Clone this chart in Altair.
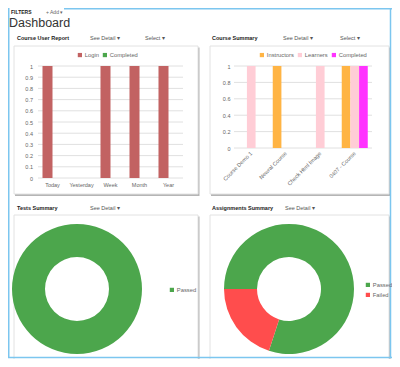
import math
import altair as alt
import pandas as pd

W, H = 384, 351
FONT = "Liberation Sans"

# ---- Course User Report ----
cur_periods = ["Today", "Yesterday", "Week", "Month", "Year"]
cur_login = [1, 0, 1, 1, 1]
cur_completed = [0, 0, 0, 0, 0]
cur_series = ["Login", "Completed"]
cur_colors = ["#c26262", "#4ca64c"]
cur_ticks = [0, 0.1, 0.2, 0.3, 0.4, 0.5, 0.6, 0.7, 0.8, 0.9, 1]

# ---- Course Summary ----
cs_courses = ["Course Demo 1", "Newral Course", "Check Html Image", "0407 - Course"]
cs_instructors = [0, 1, 0, 1]
cs_learners = [1, 0, 1, 1]
cs_completed = [0, 0, 0, 1]
cs_series = ["Instructors", "Learners", "Completed"]
cs_colors = ["#ffb444", "#ffcdd6", "#ff33ff"]
cs_ticks = [0, 0.2, 0.4, 0.6, 0.8, 1]

# ---- Tests Summary ----
ts_status = ["Passed"]
ts_counts = [1]
ts_colors = ["#4ca64c"]

# ---- Assignments Summary ----
as_status = ["Passed", "Failed"]
as_counts = [4, 1]
as_colors = ["#4ca64c", "#ff4d4d"]

one = pd.DataFrame({"k": [0]})


def txt(s, x, y, size=5.5, color="#555", weight="normal", align="left"):
    return alt.Chart(pd.DataFrame({"t": [s]})).mark_text(
        align=align, baseline="middle", fontSize=size, color=color,
        fontWeight=weight, font=FONT
    ).encode(x=alt.value(x), y=alt.value(y), text="t:N")


def box(x, y, x2, y2, fill="white", stroke="#e2e2e2", sw=1, opacity=1):
    return alt.Chart(one).mark_rect(
        fill=fill, stroke=stroke, strokeWidth=sw, fillOpacity=opacity
    ).encode(x=alt.value(x), x2=alt.value(x2), y=alt.value(y), y2=alt.value(y2))


def line(x, y, x2, y2, color="#7cc6ef", sw=1.5):
    return alt.Chart(one).mark_rule(color=color, strokeWidth=sw).encode(
        x=alt.value(x), x2=alt.value(x2), y=alt.value(y), y2=alt.value(y2))


def panel(x, y, x2, y2):
    shadow = box(x + 1, y + 1.5, x2 + 1.5, y2 + 2, fill="#b5b5b5", stroke="#b5b5b5", sw=0)
    front = box(x, y, x2, y2)
    return [shadow, front]


def legend(lx, ly, direction):
    return alt.Legend(
        orient="none", legendX=lx, legendY=ly, direction=direction, title=None,
        symbolType="square", symbolSize=18, symbolStrokeWidth=0,
        labelFontSize=5.8, labelColor="#666", labelFont=FONT,
        columnPadding=3, rowPadding=3, labelOffset=2, padding=0,
    )


def axis(orient, offset, **kw):
    return alt.Axis(orient=orient, offset=offset, title=None, domain=False,
                    ticks=False, tickSize=0, grid=False, labelFontSize=5.5,
                    labelColor="#666", labelFont=FONT, labelOverlap=False,
                    zindex=2, **kw)


# ---------- panel 1: bars ----------
cur_df = pd.DataFrame({
    "period": cur_periods * 2,
    "series": ["Login"] * 5 + ["Completed"] * 5,
    "value": cur_login + cur_completed,
})
y1 = alt.Y("value:Q", scale=alt.Scale(domain=[0, 1], range=[170, 58]),
           axis=axis("left", -30, values=cur_ticks, labelPadding=5.5, format="~g"))
grid1 = alt.Chart(pd.DataFrame({"value": cur_ticks})).mark_rule(
    color="#e0e0e0", strokeWidth=1).encode(y=y1, x=alt.value(30), x2=alt.value(175))
bars1 = alt.Chart(cur_df).mark_bar().encode(
    x=alt.X("period:N", sort=cur_periods,
            scale=alt.Scale(range=[30, 175], paddingInner=0.31, paddingOuter=0.155),
            axis=axis("bottom", 170 - H, labelAngle=0, labelPadding=4)),
    xOffset=alt.XOffset("series:N", sort=cur_series,
                        scale=alt.Scale(domain=cur_series, paddingInner=0)),
    y=y1,
    color=alt.Color("series:N", scale=alt.Scale(domain=cur_series, range=cur_colors),
                    legend=legend(69, 44, "horizontal")),
)
p1 = alt.layer(grid1, bars1)

# ---------- panel 2: bars ----------
cs_df = pd.DataFrame({
    "course": cs_courses * 3,
    "series": ["Instructors"] * 4 + ["Learners"] * 4 + ["Completed"] * 4,
    "value": cs_instructors + cs_learners + cs_completed,
})
y2 = alt.Y("value:Q", scale=alt.Scale(domain=[0, 1], range=[140, 58]),
           axis=axis("left", -226, values=cs_ticks, labelPadding=4, format="~g"))
grid2 = alt.Chart(pd.DataFrame({"value": cs_ticks})).mark_rule(
    color="#e0e0e0", strokeWidth=1).encode(y=y2, x=alt.value(226), x2=alt.value(364))
bars2 = alt.Chart(cs_df).mark_bar().encode(
    x=alt.X("course:N", sort=cs_courses,
            scale=alt.Scale(range=[226, 364], paddingInner=0.246, paddingOuter=0.123),
            axis=axis("bottom", 140 - H, labelAngle=315, labelAlign="right",
                      labelBaseline="middle", labelPadding=4)),
    xOffset=alt.XOffset("series:N", sort=cs_series,
                        scale=alt.Scale(domain=cs_series, paddingInner=0)),
    y=y2,
    color=alt.Color("series:N", scale=alt.Scale(domain=cs_series, range=cs_colors),
                    legend=legend(251, 44, "horizontal")),
)
p2 = alt.layer(grid2, bars2)

# ---------- donuts ----------
ROT = [1.5 * math.pi, 3.5 * math.pi]
ts_df = pd.DataFrame({"status": ts_status, "count": ts_counts})
d1 = alt.Chart(ts_df).mark_arc(radius=65, radius2=32).encode(
    theta=alt.Theta("count:Q", stack=True, scale=alt.Scale(range=ROT)),
    color=alt.Color("status:N", scale=alt.Scale(domain=ts_status, range=ts_colors),
                    legend=legend(161, 279, "vertical")),
    order=alt.Order("status:N", sort="descending"),
    x=alt.value(69), y=alt.value(281),
)
as_df = pd.DataFrame({"status": as_status, "count": as_counts})
d2 = alt.Chart(as_df).mark_arc(radius=65, radius2=32).encode(
    theta=alt.Theta("count:Q", stack=True, scale=alt.Scale(range=ROT)),
    color=alt.Color("status:N", scale=alt.Scale(domain=as_status, range=as_colors),
                    legend=legend(357, 274, "vertical")),
    order=alt.Order("status:N", sort="descending"),
    x=alt.value(281), y=alt.value(281),
)

# ---------- decorations ----------
deco = []
deco += panel(6, 38, 190, 186)
deco += panel(202, 38, 381, 186)
deco += panel(6, 207, 190, 362)
deco += panel(202, 207, 381, 362)
borders = [
    line(0.75, 0, 0.75, H - 1),
    line(W - 1.5, 0, W - 1.5, H - 1),
    line(0, H - 1.5, W, H - 1.5),
    line(56, 0.75, W, 0.75),
]
texts = [
    txt("FILTERS", 3, 3.5, size=5, color="#222", weight="bold"),
    txt("+ Add ▾", 38, 3.5, size=5, color="#666"),
    txt("Dashboard", 1, 15, size=12.5, color="#333"),
    txt("Course User Report", 9, 30, color="#222", weight="bold"),
    txt("See Detail ▾", 82, 30),
    txt("Select ▾", 137, 30),
    txt("Course Summary", 204, 30, color="#222", weight="bold"),
    txt("See Detail ▾", 275, 30),
    txt("Select ▾", 332, 30),
    txt("Tests Summary", 9, 200, color="#222", weight="bold"),
    txt("See Detail ▾", 82, 200),
    txt("Assignments Summary", 204, 200, color="#222", weight="bold"),
    txt("See Detail ▾", 277, 200),
]

chart = alt.layer(*deco, *borders, *texts, p1, p2, d1, d2).resolve_scale(
    x="independent", y="independent", color="independent", theta="independent",
    xOffset="independent",
).properties(
    width=W, height=H, autosize=alt.AutoSizeParams(type="none"), padding=0,
    background="white",
).configure_view(strokeWidth=0)

chart.save("out.html", embed_options={"renderer": "svg", "actions": False})
